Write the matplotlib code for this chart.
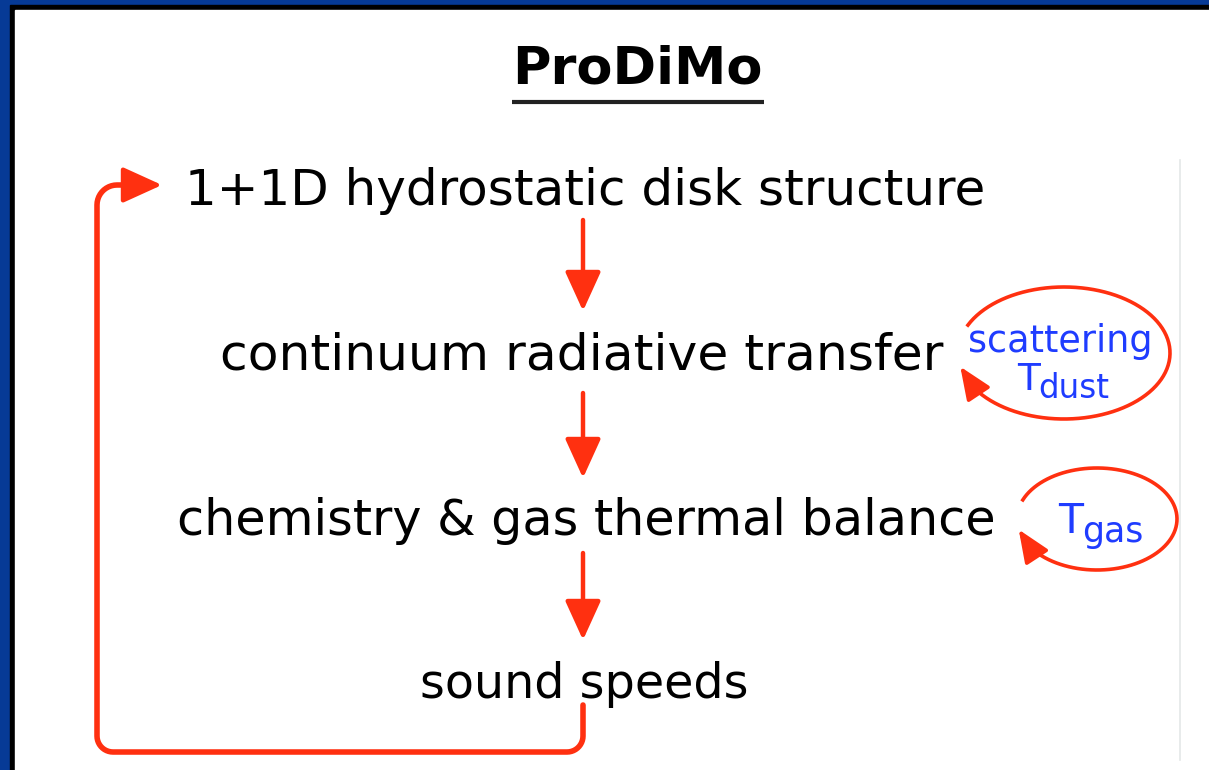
import numpy as np
import matplotlib
matplotlib.use("Agg")
import matplotlib.pyplot as plt
from matplotlib.patches import Rectangle

# diagram content
title = "ProDiMo"
steps = ["1+1D hydrostatic disk structure",
         "continuum radiative transfer",
         "chemistry & gas thermal balance",
         "sound speeds"]
step_left = [185, 220, 177, 420]
step_right = [985, 943, 995, 748]
step_base = [205, 370, 535, 698]

RED = "#ff3010"
BLUE = "#1f3cff"
W, H = 1209, 770

fig = plt.figure(figsize=(W / 100, H / 100), dpi=100)
fig.patch.set_facecolor("#063a96")
ax = fig.add_axes([0, 0, 1, 1])
ax.set_xlim(0, W)
ax.set_ylim(H, 0)
ax.axis("off")

# slide frame: blue outer, black inner, white page
ax.add_patch(Rectangle((0, 0), W, H, color="#063a96", zorder=0))
ax.add_patch(Rectangle((10, 5), W, H, color="black", zorder=0))
ax.add_patch(Rectangle((15, 10), W, H, color="white", zorder=0))
ax.plot([1180, 1180], [160, 760], color="#e4e8e8", lw=1.2, zorder=1)

renderer = fig.canvas.get_renderer()


def fit_text(s, x0, x1, y, **kw):
    t = ax.text((x0 + x1) / 2, y, s, ha="center", va="baseline", fontsize=30, **kw)
    w = t.get_window_extent(renderer=renderer).width
    t.set_fontsize(30 * (x1 - x0) / w)
    return t


fit_text(title, 512, 762, 84, fontweight="bold", color="black")
ax.plot([512, 764], [102, 102], color="#222222", lw=3, solid_capstyle="butt")

for s, x0, x1, yb in zip(steps, step_left, step_right, step_base):
    fit_text(s, x0, x1, yb, color="black")

ARROW = dict(arrowstyle="-|>,head_length=1.1,head_width=0.5", color=RED,
             lw=3.2, mutation_scale=22, shrinkA=0, shrinkB=0)

# downward arrows between steps
xc = 583
arrow_from = [220, 393, 553]
arrow_to = [311, 478, 640]
for y0, y1 in zip(arrow_from, arrow_to):
    ax.annotate("", xy=(xc, y1), xytext=(xc, y0), arrowprops=ARROW)

# feedback loop back to the top
def corner(cx, cy, r, a0, a1, n=12):
    t = np.radians(np.linspace(a0, a1, n))
    return cx + r * np.cos(t), cy + r * np.sin(t)

xs, ys = [xc], [705]
cx_, cy_ = corner(xc - 16, 736, 16, 0, 90)
xs += list(cx_); ys += list(cy_)
cx_, cy_ = corner(113, 736, 16, 90, 180)
xs += list(cx_); ys += list(cy_)
cx_, cy_ = corner(117, 205, 20, 180, 270)
xs += list(cx_); ys += list(cy_)
xs.append(135); ys.append(185)
ax.plot(xs, ys, color=RED, lw=4, solid_capstyle="round", solid_joinstyle="round")
ax.annotate("", xy=(162, 185), xytext=(132, 185), arrowprops=ARROW)

# self-iteration loops
loops = [
    dict(cx=1064, cy=353, a=106, b=66, t0=155, t1=-168),
    dict(cx=1097, cy=519, a=80, b=51, t0=158, t1=-168),
]
for lp in loops:
    t = np.radians(np.linspace(lp["t0"], lp["t1"], 200))
    x = lp["cx"] + lp["a"] * np.cos(t)
    y = lp["cy"] - lp["b"] * np.sin(t)
    ax.plot(x[:-6], y[:-6], color=RED, lw=2.6)
    ax.annotate("", xy=(x[-1], y[-1]), xytext=(x[-14], y[-14]),
                arrowprops=dict(arrowstyle="-|>,head_length=1.0,head_width=0.42",
                                color=RED, lw=2.6, mutation_scale=20,
                                shrinkA=0, shrinkB=0))

# loop labels
fit_text("scattering", 968, 1152, 352, color=BLUE)
ax.text(1040, 390, "T", ha="right", va="baseline", fontsize=27, color=BLUE)
ax.text(1038, 398, "dust", ha="left", va="baseline", fontsize=23.5, color=BLUE)
ax.text(1083, 533, "T", ha="right", va="baseline", fontsize=29.5, color=BLUE)
ax.text(1082, 542, "gas", ha="left", va="baseline", fontsize=25, color=BLUE)

fig.savefig("out.png", dpi=100)
